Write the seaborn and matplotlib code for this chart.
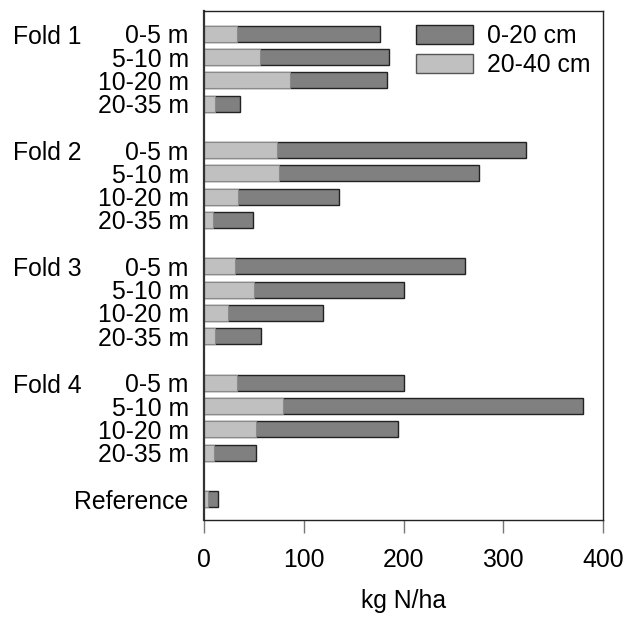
import matplotlib
matplotlib.use("Agg")
import matplotlib.pyplot as plt
import matplotlib.transforms as mtransforms
from matplotlib.patches import Patch
import numpy as np
import pandas as pd
import seaborn as sns

# Nitrogen stock by fold and distance band (kg N/ha)
folds = ["Fold 1", "Fold 2", "Fold 3", "Fold 4"]
distances = ["0-5 m", "5-10 m", "10-20 m", "20-35 m"]
reference_label = "Reference"

# 20-40 cm layer (light segment, drawn from zero)
deep_20_40 = [33, 56, 86, 11,
              73, 75, 34, 9,
              31, 50, 24, 11,
              33, 79, 52, 10,
              4]
# 0-20 cm layer (dark segment, stacked after the 20-40 cm layer)
top_0_20 = [143, 129, 97, 25,
            250, 201, 101, 40,
            231, 150, 95, 46,
            168, 301, 142, 42,
            10]

xticks = [0, 100, 200, 300, 400]
xlabel = "kg N/ha"
legend_labels = ["0-20 cm", "20-40 cm"]

DARK = "#808080"
LIGHT = "#c0c0c0"
FS = 17.8

# Row positions: four rows per fold, blank row between folds, reference last
positions = []
labels = []
for g, fold in enumerate(folds):
    for d, dist in enumerate(distances):
        positions.append(g * 5 + d)
        labels.append(dist)
positions.append(len(folds) * 5)
labels.append(reference_label)

df = pd.DataFrame({
    "pos": positions,
    "label": labels,
    "deep": deep_20_40,
    "top": top_0_20,
})
df["total"] = df["deep"] + df["top"]

sns.set_theme(style="white")
plt.rcParams["font.family"] = ["Liberation Sans", "DejaVu Sans"]
plt.rcParams["text.color"] = "black"
plt.rcParams["axes.labelcolor"] = "black"
plt.rcParams["xtick.color"] = "black"
plt.rcParams["ytick.color"] = "black"

fig = plt.figure(figsize=(6.25, 6.18), dpi=100)
ax = fig.add_axes([204 / 625, 1 - 520 / 618, 399 / 625, 509.5 / 618])

bar_w = 0.69
sns.barplot(data=df, x="total", y="pos", orient="y", native_scale=True,
            color=DARK, edgecolor="#222222", linewidth=1.0, width=bar_w,
            saturation=1, errorbar=None, ax=ax)
sns.barplot(data=df, x="deep", y="pos", orient="y", native_scale=True,
            color=LIGHT, edgecolor="#8a8a8a", linewidth=0.8, width=bar_w,
            saturation=1, errorbar=None, ax=ax)

ax.set_xlim(0, 400)
ax.set_ylim(20.9, -1.0)
ax.set_xticks(xticks)
ax.set_xticklabels([str(t) for t in xticks], fontsize=FS)
ax.set_yticks(df["pos"])
ax.set_yticklabels(df["label"], fontsize=FS)
ax.set_ylabel("")
ax.set_xlabel(xlabel, fontsize=FS, labelpad=12)
ax.tick_params(axis="y", length=0, pad=11, labelcolor="black")
ax.tick_params(axis="x", length=9.5, width=1.0, color="#777777", pad=11,
               direction="out", bottom=True, labelcolor="black")
for side in ["left", "right", "top", "bottom"]:
    ax.spines[side].set_visible(True)
    ax.spines[side].set_color("#222222")
    ax.spines[side].set_linewidth(1.0)
ax.spines["left"].set_linewidth(1.6)
ax.spines["left"].set_color("#333333")

# Fold names at the left edge of the figure, level with each fold's first row
trans = mtransforms.blended_transform_factory(fig.transFigure, ax.transData)
for g, fold in enumerate(folds):
    ax.text(13 / 625, g * 5 + 0.12, fold, transform=trans, fontsize=FS,
            ha="left", va="center", color="black")

handles = [Patch(facecolor=DARK, edgecolor="#222222", linewidth=1.0),
           Patch(facecolor=LIGHT, edgecolor="#555555", linewidth=1.0)]
ax.legend(handles, legend_labels, loc="upper left",
          bbox_to_anchor=(416 / 625, 1 - 24 / 618), bbox_transform=fig.transFigure,
          frameon=False, fontsize=FS, handlelength=2.3, handleheight=0.8,
          handletextpad=0.58, labelspacing=0.2, borderpad=0, borderaxespad=0)

fig.savefig("out.png", dpi=100)
